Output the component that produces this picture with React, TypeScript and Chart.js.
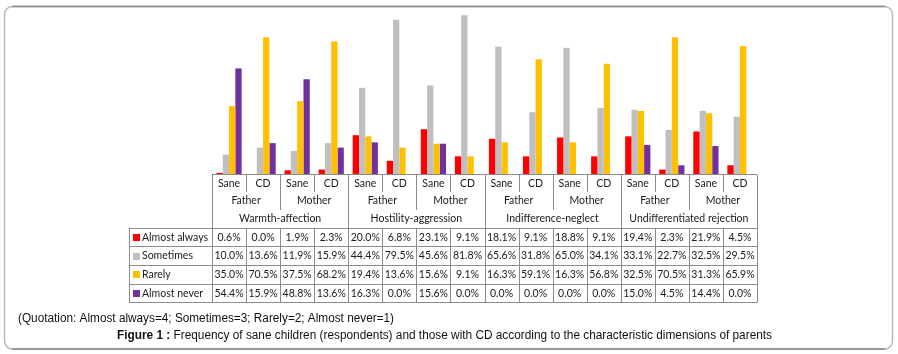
import React, { useEffect, useRef } from "react";
import { Chart, registerables } from "chart.js";

Chart.register(...registerables);

const dimensions = ["Warmth-affection", "Hostility-aggression", "Indifference-neglect", "Undifferentiated rejection"];
const parents = ["Father", "Mother"];
const groups = ["Sane", "CD"];

const seriesNames = ["Almost always", "Sometimes", "Rarely", "Almost never"];
const seriesColors = ["#FF0000", "#BFBFBF", "#FFC000", "#7030A0"];

const almostAlways = [0.6, 0.0, 1.9, 2.3, 20.0, 6.8, 23.1, 9.1, 18.1, 9.1, 18.8, 9.1, 19.4, 2.3, 21.9, 4.5];
const sometimes = [10.0, 13.6, 11.9, 15.9, 44.4, 79.5, 45.6, 81.8, 65.6, 31.8, 65.0, 34.1, 33.1, 22.7, 32.5, 29.5];
const rarely = [35.0, 70.5, 37.5, 68.2, 19.4, 13.6, 15.6, 9.1, 16.3, 59.1, 16.3, 56.8, 32.5, 70.5, 31.3, 65.9];
const almostNever = [54.4, 15.9, 48.8, 13.6, 16.3, 0.0, 15.6, 0.0, 0.0, 0.0, 0.0, 0.0, 15.0, 4.5, 14.4, 0.0];

const quotation = "(Quotation: Almost always=4; Sometimes=3; Rarely=2; Almost never=1)";
const captionBold = "Figure 1 : ";
const captionText = "Frequency of sane children (respondents) and those with CD according to the characteristic dimensions of parents";

const categories: string[] = [];
dimensions.forEach((d) => parents.forEach((p) => groups.forEach((g) => categories.push(`${g} ${p} ${d}`))));

const allSeries = [almostAlways, sometimes, rarely, almostNever];

const TABLE_FONT = "Lato, 'Open Sans', sans-serif";
const TEXT_COLOR = "#1a1a1a";
const GRID = "#8c8c8c";

const tablePlugin = {
  id: "tablePlugin",
  afterDraw(chart: any) {
    const ctx: CanvasRenderingContext2D = chart.ctx;
    const area = chart.chartArea;
    const xs = chart.scales.x;
    const n = categories.length;
    const colW = xs.getPixelForValue(1) - xs.getPixelForValue(0);
    const left = xs.getPixelForValue(0) - colW / 2;
    const right = left + colW * n;
    const colX = (i: number) => left + colW * i;
    const px = (v: number) => Math.round(v) + 0.5;

    const top = area.bottom;
    const legendLeft = 129;
    const rowYs = [227.5, 246.2, 264.9, 283.6, 302.3];
    const subRowBottom = 192;
    const parentRowBottom = 210;

    ctx.save();
    ctx.strokeStyle = GRID;
    ctx.lineWidth = 1;
    ctx.beginPath();
    // axis / table top
    ctx.moveTo(left, px(top));
    ctx.lineTo(right, px(top));
    // horizontal row lines
    rowYs.forEach((y) => {
      ctx.moveTo(legendLeft, px(y));
      ctx.lineTo(right, px(y));
    });
    // legend column left
    ctx.moveTo(px(legendLeft), px(rowYs[0]));
    ctx.lineTo(px(legendLeft), px(rowYs[4]));
    for (let i = 0; i <= n; i++) {
      const x = px(colX(i));
      let yEnd: number;
      if (i % 4 === 0) {
        ctx.moveTo(x, px(top));
        ctx.lineTo(x, px(rowYs[4]));
      } else {
        yEnd = i % 2 === 0 ? parentRowBottom : subRowBottom;
        ctx.moveTo(x, px(top));
        ctx.lineTo(x, yEnd);
        ctx.moveTo(x, px(rowYs[0]));
        ctx.lineTo(x, px(rowYs[4]));
      }
    }
    ctx.stroke();

    ctx.fillStyle = TEXT_COLOR;
    ctx.font = `10.5px ${TABLE_FONT}`;
    ctx.textBaseline = "middle";
    ctx.textAlign = "center";
    // header rows
    for (let i = 0; i < n; i++) {
      ctx.fillText(groups[i % 2], colX(i) + colW / 2, 183.5);
    }
    for (let j = 0; j < n / 2; j++) {
      ctx.fillText(parents[j % 2], colX(j * 2) + colW, 201);
    }
    for (let k = 0; k < dimensions.length; k++) {
      ctx.fillText(dimensions[k], colX(k * 4) + colW * 2, 218.5);
    }
    // data rows
    for (let r = 0; r < allSeries.length; r++) {
      const cy = (rowYs[r] + rowYs[r + 1]) / 2 + 0.5;
      ctx.textAlign = "center";
      ctx.fillStyle = TEXT_COLOR;
      allSeries[r].forEach((v, i) => {
        ctx.fillText(v.toFixed(1) + "%", colX(i) + colW / 2, cy);
      });
      ctx.fillStyle = seriesColors[r];
      ctx.fillRect(133, Math.round(cy - 3.5), 7, 7);
      ctx.fillStyle = TEXT_COLOR;
      ctx.textAlign = "left";
      ctx.fillText(seriesNames[r], 142, cy);
    }

    // quotation line
    ctx.textAlign = "left";
    ctx.font = "12px 'Liberation Sans', Arial, sans-serif";
    const qw = ctx.measureText(quotation).width;
    ctx.save();
    ctx.translate(18, 318.5);
    ctx.scale(376 / qw, 1);
    ctx.fillStyle = "#111";
    ctx.fillText(quotation, 0, 0);
    ctx.restore();

    // caption
    ctx.font = "bold 12px 'Liberation Sans', Arial, sans-serif";
    const bw = ctx.measureText(captionBold).width;
    ctx.font = "12px 'Liberation Sans', Arial, sans-serif";
    const tw = ctx.measureText(captionText).width;
    const sc = 655 / (bw + tw);
    ctx.save();
    ctx.translate(117, 335.5);
    ctx.scale(sc, 1);
    ctx.fillStyle = "#111";
    ctx.font = "bold 12px 'Liberation Sans', Arial, sans-serif";
    ctx.fillText(captionBold, 0, 0);
    ctx.font = "12px 'Liberation Sans', Arial, sans-serif";
    ctx.fillText(captionText, bw, 0);
    ctx.restore();

    // frame
    ctx.lineWidth = 1.5;
    ctx.strokeStyle = "#b8b8b8";
    ctx.beginPath();
    (ctx as any).roundRect(4.5, 6.5, 888, 342.5, 8);
    ctx.stroke();
    ctx.strokeStyle = "#8a8a8a";
    ctx.beginPath();
    ctx.moveTo(12, 6.5);
    ctx.lineTo(885, 6.5);
    ctx.moveTo(12, 349);
    ctx.lineTo(885, 349);
    ctx.stroke();
    ctx.restore();
  },
};

export default function App() {
  const ref = useRef<HTMLCanvasElement | null>(null);
  useEffect(() => {
    if (!ref.current) return;
    const chart = new Chart(ref.current, {
      type: "bar",
      data: {
        labels: categories,
        datasets: allSeries.map((s, i) => ({
          label: seriesNames[i],
          data: s,
          backgroundColor: seriesColors[i],
          borderWidth: 0,
          barPercentage: 1,
          categoryPercentage: 0.74,
        })),
      },
      options: {
        responsive: false,
        animation: false,
        layout: { padding: { left: 212, right: 141, top: 9, bottom: 180 } },
        scales: {
          x: { display: false },
          y: { display: false, min: 0, max: 85 },
        },
        plugins: { legend: { display: false }, tooltip: { enabled: false } },
      },
      plugins: [tablePlugin],
    });
    return () => chart.destroy();
  }, []);
  return (
    <div style={{ position: "fixed", left: 0, top: 0, width: 898, height: 354, background: "#fff" }}>
      <canvas ref={ref} width={898} height={354} style={{ display: "block" }} />
    </div>
  );
}
